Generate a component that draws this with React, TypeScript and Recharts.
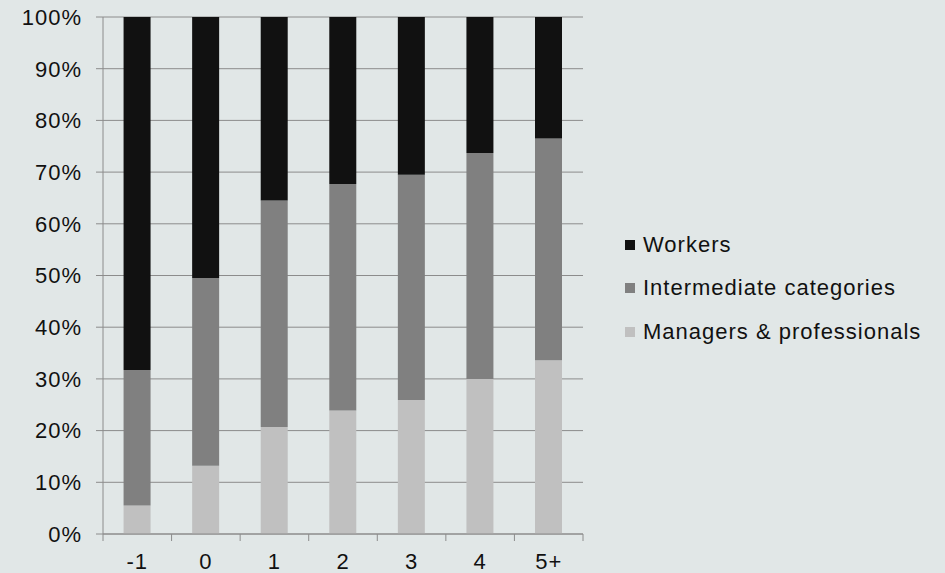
import React from 'react';
import { BarChart, Bar, XAxis, YAxis, CartesianGrid } from 'recharts';

const categories = ['-1', '0', '1', '2', '3', '4', '5+'];
const managers = [5.5, 13.2, 20.7, 23.9, 25.9, 30.0, 33.6];
const intermediate = [26.2, 36.3, 43.8, 43.8, 43.6, 43.7, 42.9];
const workers = [68.3, 50.5, 35.5, 32.3, 30.5, 26.3, 23.5];
const yTicks = [0, 10, 20, 30, 40, 50, 60, 70, 80, 90, 100];

const series = [
  { key: 'workers', name: 'Workers', color: '#111111' },
  { key: 'intermediate', name: 'Intermediate categories', color: '#808080' },
  { key: 'managers', name: 'Managers & professionals', color: '#c0c0c0' },
];

const data = categories.map((c, i) => ({
  name: c,
  managers: managers[i],
  intermediate: intermediate[i],
  workers: workers[i],
}));

const FONT = '"Liberation Sans", Arial, sans-serif';
const AXIS = '#8c8c8c';
const FS = 22;
const LS = 1;

// Excel-style x ticks: marks sit on the category boundaries, label in the middle
function XTick(props: any) {
  const { x, y, payload, index } = props;
  const half = payload && payload.offset ? payload.offset : 0;
  return (
    <g>
      <line x1={x - half} y1={y} x2={x - half} y2={y + 7} stroke={AXIS} />
      {index === categories.length - 1 && (
        <line x1={x + half} y1={y} x2={x + half} y2={y + 7} stroke={AXIS} />
      )}
      <text
        x={x}
        y={y + 19}
        dy="0.71em"
        textAnchor="middle"
        fill="#111"
        fontSize={FS}
        letterSpacing={LS}
        fontFamily={FONT}
      >
        {payload.value}
      </text>
    </g>
  );
}

function LegendBox() {
  return (
    <div
      style={{
        position: 'absolute',
        left: 625,
        top: 223,
        fontFamily: FONT,
        fontSize: FS,
        letterSpacing: LS,
        color: '#111',
      }}
    >
      {series.map((s) => (
        <div key={s.key} style={{ display: 'flex', alignItems: 'center', height: 43.5 }}>
          <span style={{ width: 10, height: 10, background: s.color, marginRight: 8, display: 'inline-block' }} />
          <span>{s.name}</span>
        </div>
      ))}
    </div>
  );
}

export default function App() {
  return (
    <div style={{ position: 'absolute', left: 0, top: 0, width: 945, height: 573, background: '#e1e7e7' }}>
      <BarChart
        width={945}
        height={573}
        data={data}
        barCategoryGap="30%"
        margin={{ top: 17, right: 362, bottom: 0, left: 0 }}
      >
        <CartesianGrid vertical={false} stroke={AXIS} />
        <XAxis
          dataKey="name"
          height={39}
          axisLine={{ stroke: AXIS }}
          tickLine={false}
          tickSize={0}
          tickMargin={0}
          tick={<XTick />}
          interval={0}
        />
        <YAxis
          width={103}
          domain={[0, 100]}
          ticks={yTicks}
          tickFormatter={(v: number) => `${v}%`}
          axisLine={{ stroke: AXIS }}
          tickLine={{ stroke: AXIS }}
          tickSize={7}
          tickMargin={14}
          tick={{ fill: '#111', fontSize: FS, fontFamily: FONT, letterSpacing: LS }}
        />
        <Bar dataKey="managers" name="Managers & professionals" stackId="a" fill="#c0c0c0" isAnimationActive={false} />
        <Bar dataKey="intermediate" name="Intermediate categories" stackId="a" fill="#808080" isAnimationActive={false} />
        <Bar dataKey="workers" name="Workers" stackId="a" fill="#111111" isAnimationActive={false} />
      </BarChart>
      <LegendBox />
    </div>
  );
}
